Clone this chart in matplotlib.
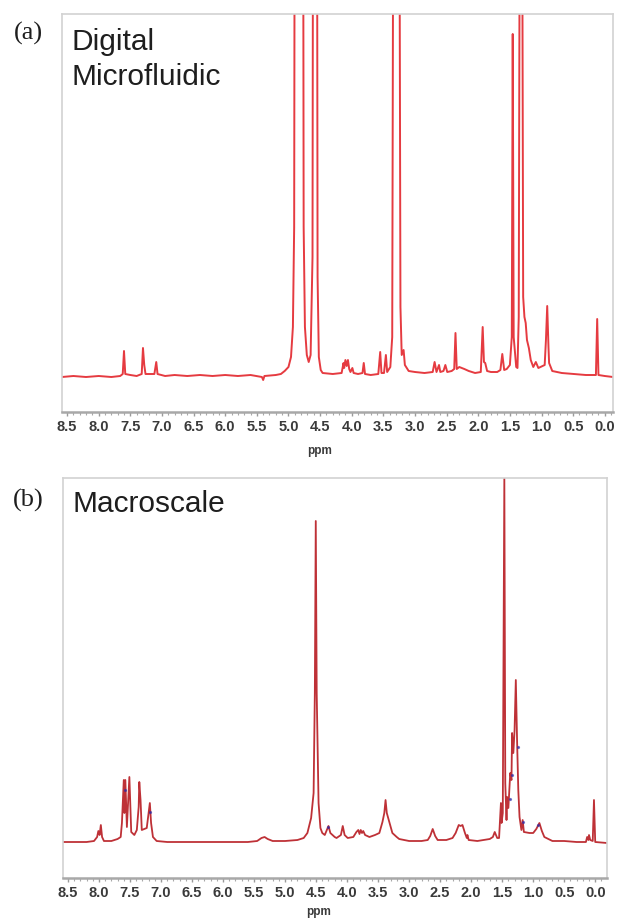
import matplotlib
matplotlib.use("Agg")
import matplotlib.pyplot as plt
from matplotlib.ticker import MultipleLocator, FormatStrFormatter

# ---------------- data ----------------
# (a) Digital microfluidic spectrum: chemical shift (ppm) and intensity (a.u.)
ppm_a = [8.58, 8.40, 8.20, 8.00, 7.80, 7.66, 7.62, 7.60, 7.58, 7.50, 7.40, 7.32, 7.30, 7.28,
         7.26, 7.12, 7.09, 7.07, 6.95, 6.80, 6.60, 6.40, 6.20, 6.00, 5.80, 5.60, 5.42, 5.40,
         5.38, 5.20, 5.12, 5.06, 5.00, 4.96, 4.93, 4.91, 4.90, 4.77, 4.76, 4.74, 4.71, 4.68,
         4.65, 4.62, 4.61, 4.55, 4.54, 4.52, 4.49, 4.46, 4.30, 4.16, 4.13, 4.12, 4.10, 4.08,
         4.06, 4.04, 4.02, 3.99, 3.97, 3.90, 3.83, 3.81, 3.79, 3.70, 3.58, 3.55, 3.53, 3.49,
         3.46, 3.44, 3.39, 3.36, 3.34, 3.25, 3.23, 3.21, 3.18, 3.16, 3.10, 3.00, 2.85, 2.72,
         2.69, 2.66, 2.62, 2.60, 2.55, 2.52, 2.49, 2.42, 2.38, 2.36, 2.34, 2.30, 2.22, 2.15,
         2.05, 1.96, 1.93, 1.91, 1.89, 1.86, 1.80, 1.70, 1.65, 1.62, 1.59, 1.55, 1.50, 1.47,
         1.455, 1.44, 1.40, 1.38, 1.36, 1.34, 1.31, 1.29, 1.27, 1.25, 1.23, 1.20, 1.17, 1.13,
         1.09, 1.05, 0.95, 0.93, 0.91, 0.89, 0.88, 0.83, 0.68, 0.50, 0.30, 0.14, 0.12, 0.10,
         0.00, -0.13]
int_a = [0, 1, 0, 1, 0, 1, 3, 26, 3, 2, 1, 3, 29, 12,
         3, 3, 15, 3, 1, 2, 1, 2, 1, 2, 1, 2, 0, -3,
         1, 2, 3, 6, 10, 20, 50, 150, 600, 600, 150, 50, 22, 15,
         22, 120, 600, 600, 100, 20, 7, 4, 3, 4, 14, 9, 17, 11,
         17, 8, 5, 9, 4, 3, 4, 14, 3, 2, 3, 25, 4, 4,
         22, 5, 10, 40, 600, 600, 70, 22, 27, 12, 6, 5, 4, 5,
         15, 5, 12, 5, 6, 12, 5, 6, 8, 44, 8, 10, 8, 6,
         4, 5, 50, 15, 14, 6, 5, 5, 7, 23, 7, 8, 12, 40,
         343, 40, 10, 9, 60, 600, 600, 80, 60, 54, 37, 29, 17, 10,
         15, 9, 12, 37, 71, 30, 14, 6, 4, 3, 2, 2, 58, 2,
         1, 0]

# (b) Macroscale spectrum
ppm_b = [8.58, 8.40, 8.20, 8.08, 8.03, 8.01, 7.99, 7.97, 7.95, 7.92, 7.80, 7.70, 7.65, 7.63,
         7.60, 7.59, 7.575, 7.55, 7.51, 7.48, 7.43, 7.39, 7.36, 7.35, 7.33, 7.31, 7.27, 7.23,
         7.20, 7.18, 7.16, 7.13, 7.07, 6.90, 6.50, 6.00, 5.60, 5.45, 5.38, 5.33, 5.28, 5.20,
         5.00, 4.80, 4.70, 4.64, 4.58, 4.54, 4.52, 4.505, 4.49, 4.46, 4.43, 4.40, 4.36, 4.32,
         4.30, 4.27, 4.20, 4.17, 4.10, 4.07, 4.04, 3.99, 3.90, 3.85, 3.82, 3.80, 3.78, 3.76,
         3.74, 3.71, 3.64, 3.55, 3.48, 3.43, 3.40, 3.38, 3.36, 3.32, 3.27, 3.20, 3.16, 3.00,
         2.80, 2.70, 2.66, 2.62, 2.58, 2.54, 2.40, 2.30, 2.25, 2.20, 2.17, 2.14, 2.10, 2.07,
         2.06, 2.04, 1.90, 1.80, 1.70, 1.65, 1.62, 1.58, 1.55, 1.52, 1.51, 1.49, 1.465, 1.45,
         1.43, 1.42, 1.40, 1.37, 1.35, 1.34, 1.32, 1.30, 1.28, 1.26, 1.24, 1.22, 1.19, 1.17,
         1.15, 1.06, 1.00, 0.95, 0.90, 0.86, 0.82, 0.69, 0.50, 0.30, 0.15, 0.13, 0.11, 0.10,
         0.08, 0.04, 0.02, 0.00, -0.19]
int_b = [1, 1, 1, 2, 6, 12, 8, 18, 6, 2, 2, 4, 6, 20,
         63, 30, 63, 16, 66, 11, 8, 13, 36, 61, 43, 13, 14, 15,
         30, 40, 20, 6, 2, 1, 1, 1, 1, 2, 5, 6, 4, 2,
         2, 3, 5, 10, 25, 50, 150, 322, 150, 40, 15, 10, 8, 14,
         17, 10, 6, 5, 8, 17, 8, 5, 6, 11, 13, 9, 13, 10,
         12, 8, 6, 8, 10, 21, 30, 43, 30, 21, 10, 6, 4, 2,
         2, 3, 7, 14, 7, 3, 3, 5, 10, 18, 17, 18, 10, 5,
         8, 3, 2, 3, 4, 6, 11, 5, 5, 40, 20, 30, 365, 60,
         23, 46, 35, 70, 63, 110, 90, 113, 163, 103, 53, 26, 13, 23,
         11, 10, 10, 14, 20, 12, 6, 2, 2, 1, 1, 6, 3, 8,
         3, 2, 43, 1, 0]

# peak-pick markers (blue) in (b)
pick_ppm_b = [7.58, 7.18, 4.30, 1.38, 1.34, 1.24, 1.17, 0.92]
pick_int_b = [53, 31, 16, 44, 68, 96, 21, 18]

# ---------------- figure ----------------
W, H = 617, 921
fig = plt.figure(figsize=(W / 100, H / 100), dpi=100)
fig.patch.set_facecolor("white")


def px_axes(l, t, r, b):
    return fig.add_axes([l / W, 1 - b / H, (r - l) / W, (b - t) / H])


def style(ax, xlim, ylim):
    ax.set_xlim(*xlim)
    ax.set_ylim(*ylim)
    ax.set_yticks([])
    for s in ("top", "left", "right"):
        ax.spines[s].set_color("#d2d2d2")
        ax.spines[s].set_linewidth(1.2)
    ax.spines["bottom"].set_color("#a8a8a8")
    ax.spines["bottom"].set_linewidth(1.8)
    ax.xaxis.set_major_locator(MultipleLocator(0.5))
    ax.xaxis.set_minor_locator(MultipleLocator(0.1))
    ax.xaxis.set_major_formatter(FormatStrFormatter("%.1f"))
    ax.tick_params(axis="x", which="major", direction="out", length=3, width=1,
                   color="#9a9a9a", pad=3, labelsize=10.5, labelcolor="#3a3a3a")
    ax.tick_params(axis="x", which="minor", direction="out", length=2, width=0.8,
                   color="#a8a8a8")
    for lab in ax.get_xticklabels():
        lab.set_fontfamily("Liberation Sans")
        lab.set_fontweight("bold")


# (a)
ax1 = px_axes(62, 14, 613, 412)
ax1.plot(ppm_a, int_a, color="#e3262c", lw=1.4, alpha=0.9, solid_joinstyle="round")
style(ax1, (8.58, -0.13), (-35, 363))
ax1.text(0.468, -0.098, "ppm", transform=ax1.transAxes, ha="center", va="center",
         fontsize=8.5, fontweight="bold", color="#3a3a3a", family="Liberation Sans")
ax1.text(0.018, 0.965, "Digital\nMicrofluidic", transform=ax1.transAxes, ha="left", va="top",
         fontsize=21.5, color="#1e1e1e", family="Liberation Sans", linespacing=1.3)

# (b)
ax2 = px_axes(63, 478, 607, 878)
ax2.plot(ppm_b, int_b, color="#bb262c", lw=1.3, alpha=0.95, solid_joinstyle="round")
ax2.plot(pick_ppm_b, pick_int_b, ls="none", marker="o", ms=1.3, color="#2b2ba8", alpha=0.6)
style(ax2, (8.58, -0.19), (-35, 365))
ax2.text(0.469, -0.085, "ppm", transform=ax2.transAxes, ha="center", va="center",
         fontsize=8.5, fontweight="bold", color="#3a3a3a", family="Liberation Sans")
ax2.text(0.018, 0.97, "Macroscale", transform=ax2.transAxes, ha="left", va="top",
         fontsize=21.5, color="#1e1e1e", family="Liberation Sans")

fig.text(28 / W, 1 - 33 / H, "(a)", ha="center", va="center", fontsize=19,
         family="Liberation Serif", color="#1e1e1e")
fig.text(28 / W, 1 - 500 / H, "(b)", ha="center", va="center", fontsize=19,
         family="Liberation Serif", color="#1e1e1e")

fig.savefig("out.png", dpi=100, facecolor="white")
